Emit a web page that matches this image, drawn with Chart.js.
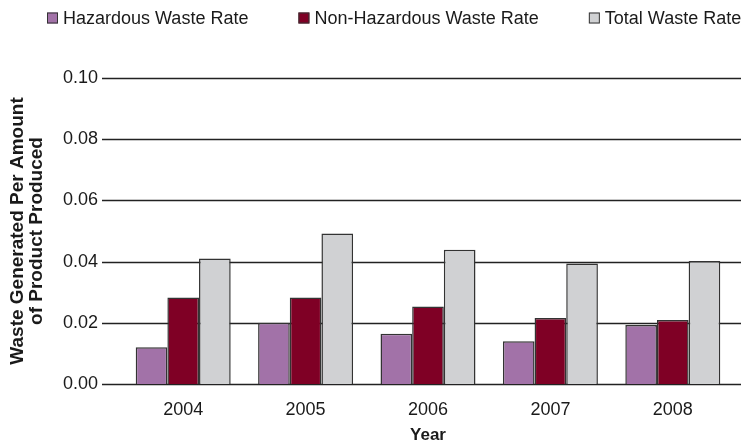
<!DOCTYPE html>
<html lang="en">
<head>
  <meta charset="UTF-8">
  <title>Waste rate per product</title>
  <script src="https://cdn.jsdelivr.net/npm/chart.js"></script>
  <style>
    html, body { margin: 0; padding: 0; background: #fff; }
    .chart-box { position: relative; width: 741px; height: 446px; }
  </style>
</head>
<body>
<div class="chart-box">
  <canvas id="wasteChart"></canvas>
</div>
<script>
  const years = ['2004', '2005', '2006', '2007', '2008'];
  const hazardous = [0.012, 0.020, 0.0164, 0.014, 0.0193];
  const nonHazardous = [0.0283, 0.0283, 0.0253, 0.0216, 0.0209];
  const totalWaste = [0.041, 0.0492, 0.0439, 0.0394, 0.0402];
  const yTicks = [0, 0.02, 0.04, 0.06, 0.08, 0.10];

  const font = "'Liberation Sans', Arial, Helvetica, sans-serif";
  const textColor = '#1a1a1a';

  // gridlines run a bit past the category area on both sides
  const gridPlugin = {
    id: 'longGrid',
    beforeDatasetsDraw(chart) {
      const ctx = chart.ctx;
      const y = chart.scales.y;
      const area = chart.chartArea;
      ctx.save();
      ctx.strokeStyle = '#222';
      ctx.lineWidth = 1.3;
      yTicks.forEach(function (v) {
        const py = Math.round(y.getPixelForValue(v)) + 0.5;
        ctx.beginPath();
        ctx.moveTo(area.left - 20, py);
        ctx.lineTo(area.right + 7, py);
        ctx.stroke();
      });
      ctx.restore();
    }
  };

  // legend drawn by hand so the spacing matches
  const legendPlugin = {
    id: 'topLegend',
    afterDraw(chart) {
      const ctx = chart.ctx;
      let x = 47;
      const cy = 18;
      const box = 11;
      const gap = 5;
      ctx.save();
      ctx.font = '18px ' + font;
      ctx.textBaseline = 'middle';
      chart.data.datasets.forEach(function (ds) {
        ctx.fillStyle = ds.backgroundColor;
        ctx.fillRect(x, cy - box / 2, box, box);
        ctx.strokeStyle = '#333';
        ctx.lineWidth = 1;
        ctx.strokeRect(x + 0.5, cy - box / 2 + 0.5, box - 1, box - 1);
        ctx.fillStyle = textColor;
        ctx.fillText(ds.label, x + box + gap, cy + 1);
        x += box + gap + ctx.measureText(ds.label).width + 50;
      });
      ctx.restore();
    }
  };

  const data = {
    labels: years,
    datasets: [
      {label: 'Hazardous Waste Rate', data: hazardous, backgroundColor: '#a272a8'},
      {label: 'Non-Hazardous Waste Rate', data: nonHazardous, backgroundColor: '#7f0025'},
      {label: 'Total Waste Rate', data: totalWaste, backgroundColor: '#d0d1d3'}
    ]
  };
  data.datasets.forEach(function (ds) {
    ds.borderColor = '#333';
    ds.borderWidth = 1.5;
    ds.categoryPercentage = 0.776;
    ds.barPercentage = 1.0;
  });

  new Chart(document.getElementById('wasteChart'), {
    type: 'bar',
    data: data,
    plugins: [gridPlugin, legendPlugin],
    options: {
      responsive: true,
      maintainAspectRatio: false,
      animation: false,
      layout: {padding: {top: 78, right: 7, bottom: 0, left: 0}},
      plugins: {legend: {display: false}, tooltip: {enabled: false}},
      scales: {
        x: {
          grid: {display: false, drawTicks: false},
          border: {display: false},
          ticks: {color: textColor, font: {family: font, size: 18}, padding: 15},
          title: {
            display: true, text: 'Year', color: textColor,
            font: {family: font, size: 17, weight: 'bold'}, padding: {top: 0, bottom: 0}
          },
          afterFit(scale) { scale.height = 62; }
        },
        y: {
          min: 0,
          max: 0.10,
          grid: {display: false, drawTicks: false},
          border: {display: false},
          afterBuildTicks(scale) { scale.ticks = yTicks.map(v => ({value: v})); },
          ticks: {
            color: textColor, font: {family: font, size: 18}, padding: 24,
            callback: v => v.toFixed(2)
          },
          title: {
            display: true, text: ['Waste Generated Per Amount', 'of Product Produced'],
            color: textColor, font: {family: font, size: 19, weight: 'bold', lineHeight: 1.0},
            padding: {top: 8, bottom: 0}
          },
          afterFit(scale) { scale.width = 122; }
        }
      }
    }
  });
</script>
</body>
</html>
